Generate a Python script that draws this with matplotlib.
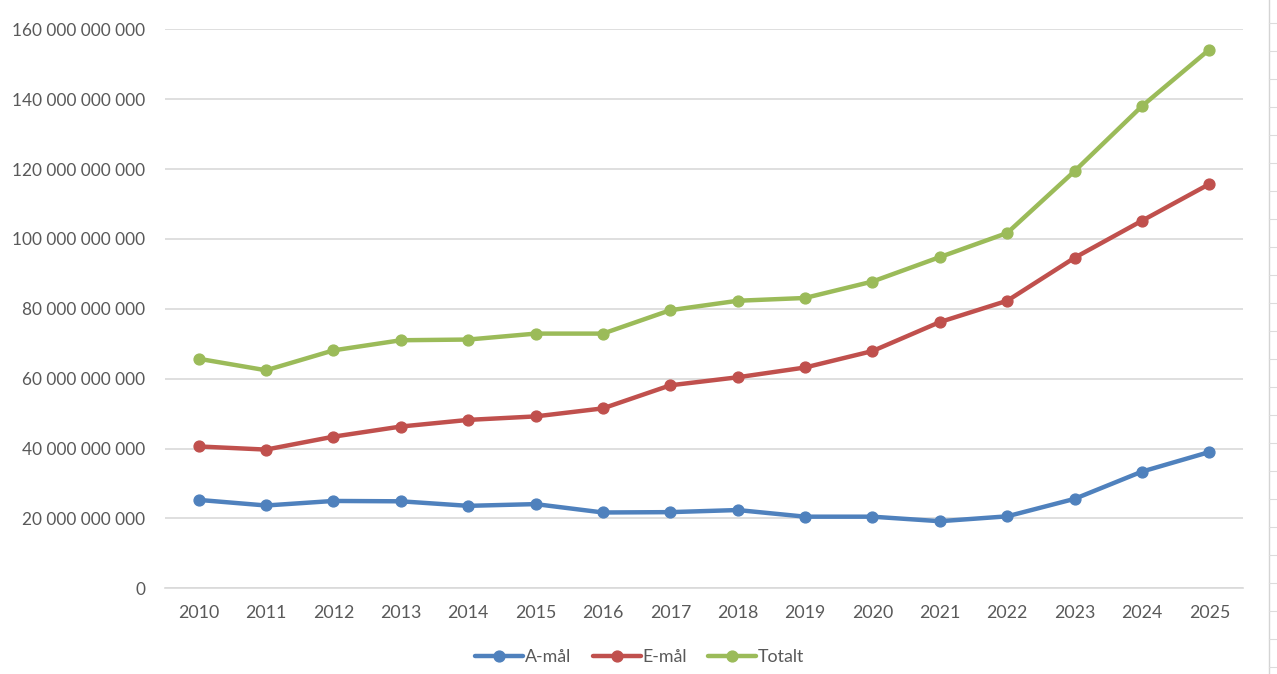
import numpy as np
import matplotlib
matplotlib.use("Agg")
import matplotlib.pyplot as plt
from matplotlib.ticker import FuncFormatter, MultipleLocator
from matplotlib.lines import Line2D

years = [str(y) for y in range(2010, 2026)]
# values in billions (miljarder)
a_mal_bn = [25.3, 23.7, 25.0, 24.9, 23.6, 24.1, 21.7, 21.8, 22.4, 20.5, 20.5, 19.2, 20.6, 25.6, 33.4, 39.0]
e_mal_bn = [40.6, 39.7, 43.4, 46.3, 48.2, 49.2, 51.5, 58.1, 60.4, 63.2, 67.9, 76.2, 82.3, 94.6, 105.2, 115.7]
totalt_bn = [65.7, 62.4, 68.1, 71.0, 71.2, 72.9, 72.9, 79.6, 82.3, 83.1, 87.8, 94.8, 101.7, 119.4, 138.0, 154.2]
series_names = ["A-mål", "E-mål", "Totalt"]
colors = ["#4F81BD", "#C0504D", "#9BBB59"]

plt.rcParams["font.family"] = ["Lato", "DejaVu Sans"]

W, H = 1277, 674
fig = plt.figure(figsize=(W / 100, H / 100), dpi=100)
ax = fig.add_axes([165 / W, 1 - 588.3 / H, (1243 - 165) / W, (588.3 - 29.3) / H])

x = np.arange(len(years))
for vals, name, c in zip([a_mal_bn, e_mal_bn, totalt_bn], series_names, colors):
    ax.plot(x, np.array(vals) * 1e9, color=c, lw=3.2, marker="o", ms=7.8,
            label=name, solid_capstyle="round", solid_joinstyle="round")

ax.set_xlim(-0.5, len(years) - 0.5)
ax.set_ylim(0, 160e9)
ax.yaxis.set_major_locator(MultipleLocator(20e9))
ax.yaxis.set_major_formatter(FuncFormatter(lambda v, p: f"{int(round(v)):,}".replace(",", " ")))
ax.set_xticks(x)
ax.set_xticklabels(years)
ax.grid(axis="y", color="#d9d9d9", lw=1.2)
ax.set_axisbelow(True)
for s in ["top", "right", "left"]:
    ax.spines[s].set_visible(False)
ax.spines["bottom"].set_color("#d9d9d9")
ax.spines["bottom"].set_linewidth(1.2)
ax.tick_params(axis="y", length=0, pad=14, labelsize=12.4, labelcolor="#595959")
ax.tick_params(axis="x", length=0, pad=12, labelsize=12.8, labelcolor="#595959")

leg = fig.legend(loc="center", bbox_to_anchor=(640 / W, 1 - 657 / H), ncol=3,
                 frameon=False, fontsize=12.8, handlelength=2.7, handletextpad=0.1,
                 columnspacing=1.2, labelcolor="#595959")

# spreadsheet cell border artifacts at the right edge
fig.add_artist(Line2D([1268.7 / W, 1268.7 / W], [0, 1], color="#d4d4d4", lw=1,
                      transform=fig.transFigure))
yy = 23.3
while yy < H:
    fig.add_artist(Line2D([1268.7 / W, 1.0], [1 - yy / H, 1 - yy / H], color="#dcdcdc",
                          lw=0.8, transform=fig.transFigure))
    yy += 28

fig.savefig("out.png", dpi=100, facecolor="white")
